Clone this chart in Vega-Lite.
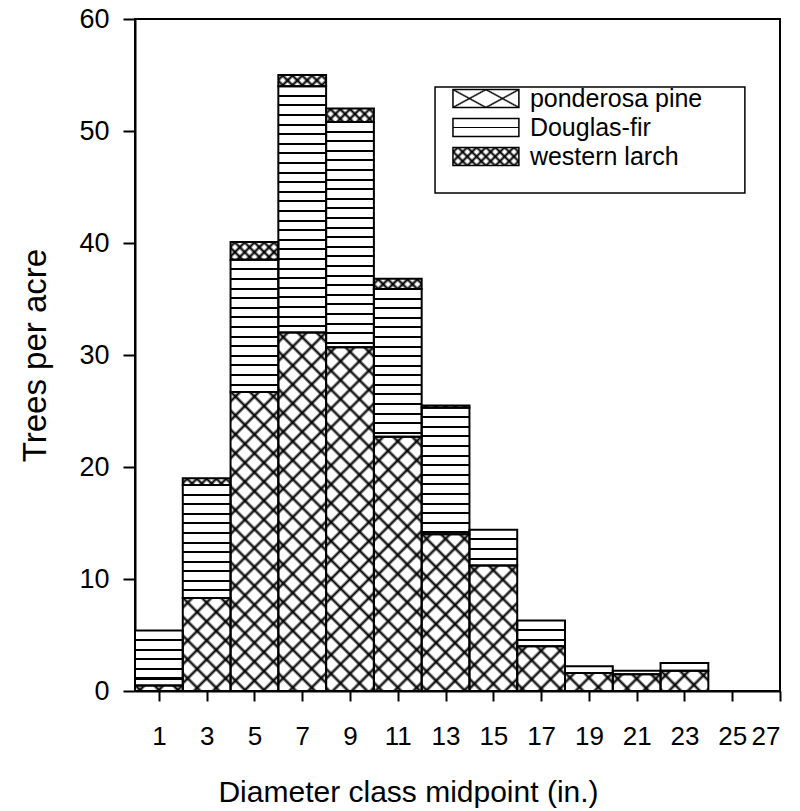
{
  "$schema": "https://vega.github.io/schema/vega-lite/v6.json",
  "width": 645,
  "height": 672,
  "autosize": {"type": "none"},
  "padding": {"left": 135, "top": 19, "right": 20, "bottom": 120},
  "background": "white",
  "config": {
    "font": "Liberation Sans",
    "view": {"stroke": "black", "strokeWidth": 2},
    "axis": {"domainColor": "black", "domainWidth": 2, "tickColor": "black", "tickWidth": 2, "labelColor": "black", "titleColor": "black", "labelFont": "Liberation Sans", "titleFont": "Liberation Sans", "labelFontSize": 27, "titleFontSize": 30, "titleFontWeight": "normal", "grid": false},
    "axisX": {"tickSize": 10, "labelPadding": 22, "titlePadding": 28, "labelFontSize": 26},
    "axisY": {"tickSize": 12, "labelPadding": 14, "titlePadding": 26, "titleFontSize": 33}
  },
  "datasets": {
    "trees": [
      {"d": 1, "species": "ponderosa pine", "trees": 0.5}, {"d": 1, "species": "Douglas-fir", "trees": 4.9}, {"d": 1, "species": "western larch", "trees": 0},
      {"d": 3, "species": "ponderosa pine", "trees": 8.3}, {"d": 3, "species": "Douglas-fir", "trees": 10.1}, {"d": 3, "species": "western larch", "trees": 0.6},
      {"d": 5, "species": "ponderosa pine", "trees": 26.7}, {"d": 5, "species": "Douglas-fir", "trees": 11.8}, {"d": 5, "species": "western larch", "trees": 1.6},
      {"d": 7, "species": "ponderosa pine", "trees": 32.0}, {"d": 7, "species": "Douglas-fir", "trees": 22.0}, {"d": 7, "species": "western larch", "trees": 1.0},
      {"d": 9, "species": "ponderosa pine", "trees": 30.7}, {"d": 9, "species": "Douglas-fir", "trees": 20.1}, {"d": 9, "species": "western larch", "trees": 1.2},
      {"d": 11, "species": "ponderosa pine", "trees": 22.7}, {"d": 11, "species": "Douglas-fir", "trees": 13.2}, {"d": 11, "species": "western larch", "trees": 0.9},
      {"d": 13, "species": "ponderosa pine", "trees": 14.0}, {"d": 13, "species": "Douglas-fir", "trees": 11.3}, {"d": 13, "species": "western larch", "trees": 0.2},
      {"d": 15, "species": "ponderosa pine", "trees": 11.2}, {"d": 15, "species": "Douglas-fir", "trees": 3.2}, {"d": 15, "species": "western larch", "trees": 0},
      {"d": 17, "species": "ponderosa pine", "trees": 4.0}, {"d": 17, "species": "Douglas-fir", "trees": 2.3}, {"d": 17, "species": "western larch", "trees": 0},
      {"d": 19, "species": "ponderosa pine", "trees": 1.6}, {"d": 19, "species": "Douglas-fir", "trees": 0.6}, {"d": 19, "species": "western larch", "trees": 0},
      {"d": 21, "species": "ponderosa pine", "trees": 1.5}, {"d": 21, "species": "Douglas-fir", "trees": 0.3}, {"d": 21, "species": "western larch", "trees": 0},
      {"d": 23, "species": "ponderosa pine", "trees": 1.8}, {"d": 23, "species": "Douglas-fir", "trees": 0.7}, {"d": 23, "species": "western larch", "trees": 0}
    ],
    "one": [{}]
  },
  "layer": [
    {
      "data": {"name": "trees"},
      "transform": [
        {"bin": {"step": 2, "extent": [0, 28]}, "field": "d", "as": ["lo", "hi"]},
        {"stack": "trees", "groupby": ["d"], "as": ["y0", "y1"]},
        {"filter": "datum.species === 'western larch'"}
      ],
      "mark": {"type": "rect", "clip": true, "y2Offset": 40, "fill": {"gradient": "linear", "x1": 0, "y1": 1, "x2": 1.0801, "y2": 0.0958, "stops": [
        {"offset": 0, "color": "white"},
        {"offset": 0.0206, "color": "white"}, {"offset": 0.0556, "color": "black"}, {"offset": 0.0906, "color": "white"},
        {"offset": 0.1317, "color": "white"}, {"offset": 0.1667, "color": "black"}, {"offset": 0.2017, "color": "white"},
        {"offset": 0.2428, "color": "white"}, {"offset": 0.2778, "color": "black"}, {"offset": 0.3128, "color": "white"},
        {"offset": 0.3539, "color": "white"}, {"offset": 0.3889, "color": "black"}, {"offset": 0.4239, "color": "white"},
        {"offset": 0.465, "color": "white"}, {"offset": 0.5, "color": "black"}, {"offset": 0.535, "color": "white"},
        {"offset": 0.5761, "color": "white"}, {"offset": 0.6111, "color": "black"}, {"offset": 0.6461, "color": "white"},
        {"offset": 0.6872, "color": "white"}, {"offset": 0.7222, "color": "black"}, {"offset": 0.7572, "color": "white"},
        {"offset": 0.7983, "color": "white"}, {"offset": 0.8333, "color": "black"}, {"offset": 0.8683, "color": "white"},
        {"offset": 0.9094, "color": "white"}, {"offset": 0.9444, "color": "black"}, {"offset": 0.9794, "color": "white"},
        {"offset": 1, "color": "white"}]}},
      "encoding": {
        "x": {"field": "lo", "type": "quantitative", "scale": {"domain": [0, 27], "nice": false, "zero": false}, "title": "Diameter class midpoint (in.)", "axis": {"values": [1, 3, 5, 7, 9, 11, 13, 15, 17, 19, 21, 23, 25, 27], "titleX": 273, "titleAlign": "center"}},
        "x2": {"field": "hi"},
        "y": {"field": "y1", "type": "quantitative", "scale": {"domain": [0, 60], "nice": false, "zero": true}, "title": "Trees per acre", "axis": {"values": [0, 10, 20, 30, 40, 50, 60]}},
        "y2": {"field": "y1"}
      }
    },
    {
      "data": {"name": "trees"},
      "transform": [
        {"bin": {"step": 2, "extent": [0, 28]}, "field": "d", "as": ["lo", "hi"]},
        {"stack": "trees", "groupby": ["d"], "as": ["y0", "y1"]},
        {"filter": "datum.species === 'western larch'"}
      ],
      "mark": {"type": "rect", "clip": true, "y2Offset": 40, "fill": {"gradient": "linear", "x1": 0, "y1": 0, "x2": 1.0801, "y2": 0.9042, "stops": [
        {"offset": 0, "color": "rgba(0,0,0,0)"},
        {"offset": 0.0206, "color": "rgba(0,0,0,0)"}, {"offset": 0.0556, "color": "black"}, {"offset": 0.0906, "color": "rgba(0,0,0,0)"},
        {"offset": 0.1317, "color": "rgba(0,0,0,0)"}, {"offset": 0.1667, "color": "black"}, {"offset": 0.2017, "color": "rgba(0,0,0,0)"},
        {"offset": 0.2428, "color": "rgba(0,0,0,0)"}, {"offset": 0.2778, "color": "black"}, {"offset": 0.3128, "color": "rgba(0,0,0,0)"},
        {"offset": 0.3539, "color": "rgba(0,0,0,0)"}, {"offset": 0.3889, "color": "black"}, {"offset": 0.4239, "color": "rgba(0,0,0,0)"},
        {"offset": 0.465, "color": "rgba(0,0,0,0)"}, {"offset": 0.5, "color": "black"}, {"offset": 0.535, "color": "rgba(0,0,0,0)"},
        {"offset": 0.5761, "color": "rgba(0,0,0,0)"}, {"offset": 0.6111, "color": "black"}, {"offset": 0.6461, "color": "rgba(0,0,0,0)"},
        {"offset": 0.6872, "color": "rgba(0,0,0,0)"}, {"offset": 0.7222, "color": "black"}, {"offset": 0.7572, "color": "rgba(0,0,0,0)"},
        {"offset": 0.7983, "color": "rgba(0,0,0,0)"}, {"offset": 0.8333, "color": "black"}, {"offset": 0.8683, "color": "rgba(0,0,0,0)"},
        {"offset": 0.9094, "color": "rgba(0,0,0,0)"}, {"offset": 0.9444, "color": "black"}, {"offset": 0.9794, "color": "rgba(0,0,0,0)"},
        {"offset": 1, "color": "rgba(0,0,0,0)"}]}},
      "encoding": {
        "x": {"field": "lo", "type": "quantitative", "title": "Diameter class midpoint (in.)"},
        "x2": {"field": "hi"},
        "y": {"field": "y1", "type": "quantitative", "title": "Trees per acre"},
        "y2": {"field": "y1"}
      }
    },
    {
      "data": {"name": "trees"},
      "transform": [
        {"bin": {"step": 2, "extent": [0, 28]}, "field": "d", "as": ["lo", "hi"]},
        {"stack": "trees", "groupby": ["d"], "as": ["y0", "y1"]},
        {"filter": "datum.species === 'Douglas-fir'"}
      ],
      "mark": {"type": "rect", "clip": true, "y2Offset": 672, "fill": {"gradient": "linear", "x1": 0, "y1": 0, "x2": 0, "y2": 1, "stops": [
        {"offset": 0, "color": "white"},
        {"offset": 0.0128, "color": "white"}, {"offset": 0.0128, "color": "black"}, {"offset": 0.0158, "color": "black"}, {"offset": 0.0158, "color": "white"},
        {"offset": 0.0271, "color": "white"}, {"offset": 0.0271, "color": "black"}, {"offset": 0.0301, "color": "black"}, {"offset": 0.0301, "color": "white"},
        {"offset": 0.0414, "color": "white"}, {"offset": 0.0414, "color": "black"}, {"offset": 0.0444, "color": "black"}, {"offset": 0.0444, "color": "white"},
        {"offset": 0.0556, "color": "white"}, {"offset": 0.0556, "color": "black"}, {"offset": 0.0586, "color": "black"}, {"offset": 0.0586, "color": "white"},
        {"offset": 0.0699, "color": "white"}, {"offset": 0.0699, "color": "black"}, {"offset": 0.0729, "color": "black"}, {"offset": 0.0729, "color": "white"},
        {"offset": 0.0842, "color": "white"}, {"offset": 0.0842, "color": "black"}, {"offset": 0.0872, "color": "black"}, {"offset": 0.0872, "color": "white"},
        {"offset": 0.0985, "color": "white"}, {"offset": 0.0985, "color": "black"}, {"offset": 0.1015, "color": "black"}, {"offset": 0.1015, "color": "white"},
        {"offset": 0.1128, "color": "white"}, {"offset": 0.1128, "color": "black"}, {"offset": 0.1158, "color": "black"}, {"offset": 0.1158, "color": "white"},
        {"offset": 0.1271, "color": "white"}, {"offset": 0.1271, "color": "black"}, {"offset": 0.1301, "color": "black"}, {"offset": 0.1301, "color": "white"},
        {"offset": 0.1414, "color": "white"}, {"offset": 0.1414, "color": "black"}, {"offset": 0.1444, "color": "black"}, {"offset": 0.1444, "color": "white"},
        {"offset": 0.1556, "color": "white"}, {"offset": 0.1556, "color": "black"}, {"offset": 0.1586, "color": "black"}, {"offset": 0.1586, "color": "white"},
        {"offset": 0.1699, "color": "white"}, {"offset": 0.1699, "color": "black"}, {"offset": 0.1729, "color": "black"}, {"offset": 0.1729, "color": "white"},
        {"offset": 0.1842, "color": "white"}, {"offset": 0.1842, "color": "black"}, {"offset": 0.1872, "color": "black"}, {"offset": 0.1872, "color": "white"},
        {"offset": 0.1985, "color": "white"}, {"offset": 0.1985, "color": "black"}, {"offset": 0.2015, "color": "black"}, {"offset": 0.2015, "color": "white"},
        {"offset": 0.2128, "color": "white"}, {"offset": 0.2128, "color": "black"}, {"offset": 0.2158, "color": "black"}, {"offset": 0.2158, "color": "white"},
        {"offset": 0.2271, "color": "white"}, {"offset": 0.2271, "color": "black"}, {"offset": 0.2301, "color": "black"}, {"offset": 0.2301, "color": "white"},
        {"offset": 0.2414, "color": "white"}, {"offset": 0.2414, "color": "black"}, {"offset": 0.2444, "color": "black"}, {"offset": 0.2444, "color": "white"},
        {"offset": 0.2556, "color": "white"}, {"offset": 0.2556, "color": "black"}, {"offset": 0.2586, "color": "black"}, {"offset": 0.2586, "color": "white"},
        {"offset": 0.2699, "color": "white"}, {"offset": 0.2699, "color": "black"}, {"offset": 0.2729, "color": "black"}, {"offset": 0.2729, "color": "white"},
        {"offset": 0.2842, "color": "white"}, {"offset": 0.2842, "color": "black"}, {"offset": 0.2872, "color": "black"}, {"offset": 0.2872, "color": "white"},
        {"offset": 0.2985, "color": "white"}, {"offset": 0.2985, "color": "black"}, {"offset": 0.3015, "color": "black"}, {"offset": 0.3015, "color": "white"},
        {"offset": 0.3128, "color": "white"}, {"offset": 0.3128, "color": "black"}, {"offset": 0.3158, "color": "black"}, {"offset": 0.3158, "color": "white"},
        {"offset": 0.3271, "color": "white"}, {"offset": 0.3271, "color": "black"}, {"offset": 0.3301, "color": "black"}, {"offset": 0.3301, "color": "white"},
        {"offset": 0.3414, "color": "white"}, {"offset": 0.3414, "color": "black"}, {"offset": 0.3444, "color": "black"}, {"offset": 0.3444, "color": "white"},
        {"offset": 0.3556, "color": "white"}, {"offset": 0.3556, "color": "black"}, {"offset": 0.3586, "color": "black"}, {"offset": 0.3586, "color": "white"},
        {"offset": 0.3699, "color": "white"}, {"offset": 0.3699, "color": "black"}, {"offset": 0.3729, "color": "black"}, {"offset": 0.3729, "color": "white"},
        {"offset": 1, "color": "white"}]}},
      "encoding": {
        "x": {"field": "lo", "type": "quantitative", "title": "Diameter class midpoint (in.)"},
        "x2": {"field": "hi"},
        "y": {"field": "y1", "type": "quantitative", "title": "Trees per acre"},
        "y2": {"field": "y1"}
      }
    },
    {
      "data": {"name": "trees"},
      "transform": [
        {"bin": {"step": 2, "extent": [0, 28]}, "field": "d", "as": ["lo", "hi"]},
        {"stack": "trees", "groupby": ["d"], "as": ["y0", "y1"]},
        {"filter": "datum.species === 'ponderosa pine'"}
      ],
      "mark": {"type": "rect", "clip": true, "y2Offset": 672, "fill": {"gradient": "linear", "x1": 0, "y1": 1, "x2": 0.0758, "y2": -0.0657, "stops": [
        {"offset": 0, "color": "white"},
        {"offset": 0.4034, "color": "white"}, {"offset": 0.4079, "color": "black"}, {"offset": 0.4124, "color": "white"},
        {"offset": 0.4297, "color": "white"}, {"offset": 0.4342, "color": "black"}, {"offset": 0.4387, "color": "white"},
        {"offset": 0.456, "color": "white"}, {"offset": 0.4605, "color": "black"}, {"offset": 0.465, "color": "white"},
        {"offset": 0.4823, "color": "white"}, {"offset": 0.4868, "color": "black"}, {"offset": 0.4913, "color": "white"},
        {"offset": 0.5087, "color": "white"}, {"offset": 0.5132, "color": "black"}, {"offset": 0.5177, "color": "white"},
        {"offset": 0.535, "color": "white"}, {"offset": 0.5395, "color": "black"}, {"offset": 0.544, "color": "white"},
        {"offset": 0.5613, "color": "white"}, {"offset": 0.5658, "color": "black"}, {"offset": 0.5703, "color": "white"},
        {"offset": 0.5876, "color": "white"}, {"offset": 0.5921, "color": "black"}, {"offset": 0.5966, "color": "white"},
        {"offset": 0.6139, "color": "white"}, {"offset": 0.6184, "color": "black"}, {"offset": 0.6229, "color": "white"},
        {"offset": 0.6402, "color": "white"}, {"offset": 0.6447, "color": "black"}, {"offset": 0.6492, "color": "white"},
        {"offset": 0.6666, "color": "white"}, {"offset": 0.6711, "color": "black"}, {"offset": 0.6756, "color": "white"},
        {"offset": 0.6929, "color": "white"}, {"offset": 0.6974, "color": "black"}, {"offset": 0.7019, "color": "white"},
        {"offset": 0.7192, "color": "white"}, {"offset": 0.7237, "color": "black"}, {"offset": 0.7282, "color": "white"},
        {"offset": 0.7455, "color": "white"}, {"offset": 0.75, "color": "black"}, {"offset": 0.7545, "color": "white"},
        {"offset": 0.7718, "color": "white"}, {"offset": 0.7763, "color": "black"}, {"offset": 0.7808, "color": "white"},
        {"offset": 0.7981, "color": "white"}, {"offset": 0.8026, "color": "black"}, {"offset": 0.8071, "color": "white"},
        {"offset": 0.8244, "color": "white"}, {"offset": 0.8289, "color": "black"}, {"offset": 0.8334, "color": "white"},
        {"offset": 0.8508, "color": "white"}, {"offset": 0.8553, "color": "black"}, {"offset": 0.8598, "color": "white"},
        {"offset": 0.8771, "color": "white"}, {"offset": 0.8816, "color": "black"}, {"offset": 0.8861, "color": "white"},
        {"offset": 0.9034, "color": "white"}, {"offset": 0.9079, "color": "black"}, {"offset": 0.9124, "color": "white"},
        {"offset": 0.9297, "color": "white"}, {"offset": 0.9342, "color": "black"}, {"offset": 0.9387, "color": "white"},
        {"offset": 0.956, "color": "white"}, {"offset": 0.9605, "color": "black"}, {"offset": 0.965, "color": "white"},
        {"offset": 0.9823, "color": "white"}, {"offset": 0.9868, "color": "black"}, {"offset": 0.9913, "color": "white"},
        {"offset": 1, "color": "white"}]}},
      "encoding": {
        "x": {"field": "lo", "type": "quantitative", "title": "Diameter class midpoint (in.)"},
        "x2": {"field": "hi"},
        "y": {"field": "y1", "type": "quantitative", "title": "Trees per acre"},
        "y2": {"field": "y1"}
      }
    },
    {
      "data": {"name": "trees"},
      "transform": [
        {"bin": {"step": 2, "extent": [0, 28]}, "field": "d", "as": ["lo", "hi"]},
        {"stack": "trees", "groupby": ["d"], "as": ["y0", "y1"]},
        {"filter": "datum.species === 'ponderosa pine'"}
      ],
      "mark": {"type": "rect", "clip": true, "y2Offset": 672, "fill": {"gradient": "linear", "x1": 0, "y1": 0, "x2": 0.0758, "y2": 1.0657, "stops": [
        {"offset": 0, "color": "rgba(0,0,0,0)"},
        {"offset": 0.0087, "color": "rgba(0,0,0,0)"}, {"offset": 0.0132, "color": "black"}, {"offset": 0.0177, "color": "rgba(0,0,0,0)"},
        {"offset": 0.035, "color": "rgba(0,0,0,0)"}, {"offset": 0.0395, "color": "black"}, {"offset": 0.044, "color": "rgba(0,0,0,0)"},
        {"offset": 0.0613, "color": "rgba(0,0,0,0)"}, {"offset": 0.0658, "color": "black"}, {"offset": 0.0703, "color": "rgba(0,0,0,0)"},
        {"offset": 0.0876, "color": "rgba(0,0,0,0)"}, {"offset": 0.0921, "color": "black"}, {"offset": 0.0966, "color": "rgba(0,0,0,0)"},
        {"offset": 0.1139, "color": "rgba(0,0,0,0)"}, {"offset": 0.1184, "color": "black"}, {"offset": 0.1229, "color": "rgba(0,0,0,0)"},
        {"offset": 0.1402, "color": "rgba(0,0,0,0)"}, {"offset": 0.1447, "color": "black"}, {"offset": 0.1492, "color": "rgba(0,0,0,0)"},
        {"offset": 0.1666, "color": "rgba(0,0,0,0)"}, {"offset": 0.1711, "color": "black"}, {"offset": 0.1756, "color": "rgba(0,0,0,0)"},
        {"offset": 0.1929, "color": "rgba(0,0,0,0)"}, {"offset": 0.1974, "color": "black"}, {"offset": 0.2019, "color": "rgba(0,0,0,0)"},
        {"offset": 0.2192, "color": "rgba(0,0,0,0)"}, {"offset": 0.2237, "color": "black"}, {"offset": 0.2282, "color": "rgba(0,0,0,0)"},
        {"offset": 0.2455, "color": "rgba(0,0,0,0)"}, {"offset": 0.25, "color": "black"}, {"offset": 0.2545, "color": "rgba(0,0,0,0)"},
        {"offset": 0.2718, "color": "rgba(0,0,0,0)"}, {"offset": 0.2763, "color": "black"}, {"offset": 0.2808, "color": "rgba(0,0,0,0)"},
        {"offset": 0.2981, "color": "rgba(0,0,0,0)"}, {"offset": 0.3026, "color": "black"}, {"offset": 0.3071, "color": "rgba(0,0,0,0)"},
        {"offset": 0.3244, "color": "rgba(0,0,0,0)"}, {"offset": 0.3289, "color": "black"}, {"offset": 0.3334, "color": "rgba(0,0,0,0)"},
        {"offset": 0.3508, "color": "rgba(0,0,0,0)"}, {"offset": 0.3553, "color": "black"}, {"offset": 0.3598, "color": "rgba(0,0,0,0)"},
        {"offset": 0.3771, "color": "rgba(0,0,0,0)"}, {"offset": 0.3816, "color": "black"}, {"offset": 0.3861, "color": "rgba(0,0,0,0)"},
        {"offset": 0.4034, "color": "rgba(0,0,0,0)"}, {"offset": 0.4079, "color": "black"}, {"offset": 0.4124, "color": "rgba(0,0,0,0)"},
        {"offset": 0.4297, "color": "rgba(0,0,0,0)"}, {"offset": 0.4342, "color": "black"}, {"offset": 0.4387, "color": "rgba(0,0,0,0)"},
        {"offset": 0.456, "color": "rgba(0,0,0,0)"}, {"offset": 0.4605, "color": "black"}, {"offset": 0.465, "color": "rgba(0,0,0,0)"},
        {"offset": 0.4823, "color": "rgba(0,0,0,0)"}, {"offset": 0.4868, "color": "black"}, {"offset": 0.4913, "color": "rgba(0,0,0,0)"},
        {"offset": 0.5087, "color": "rgba(0,0,0,0)"}, {"offset": 0.5132, "color": "black"}, {"offset": 0.5177, "color": "rgba(0,0,0,0)"},
        {"offset": 0.535, "color": "rgba(0,0,0,0)"}, {"offset": 0.5395, "color": "black"}, {"offset": 0.544, "color": "rgba(0,0,0,0)"},
        {"offset": 0.5613, "color": "rgba(0,0,0,0)"}, {"offset": 0.5658, "color": "black"}, {"offset": 0.5703, "color": "rgba(0,0,0,0)"},
        {"offset": 0.5876, "color": "rgba(0,0,0,0)"}, {"offset": 0.5921, "color": "black"}, {"offset": 0.5966, "color": "rgba(0,0,0,0)"},
        {"offset": 1, "color": "rgba(0,0,0,0)"}]}},
      "encoding": {
        "x": {"field": "lo", "type": "quantitative", "title": "Diameter class midpoint (in.)"},
        "x2": {"field": "hi"},
        "y": {"field": "y1", "type": "quantitative", "title": "Trees per acre"},
        "y2": {"field": "y1"}
      }
    },
    {
      "data": {"name": "trees"},
      "transform": [
        {"bin": {"step": 2, "extent": [0, 28]}, "field": "d", "as": ["lo", "hi"]},
        {"stack": "trees", "groupby": ["d"], "as": ["y0", "y1"]},
        {"filter": "datum.trees > 0"}
      ],
      "mark": {"type": "rect", "filled": false, "stroke": "black", "strokeWidth": 2},
      "encoding": {
        "x": {"field": "lo", "type": "quantitative", "title": "Diameter class midpoint (in.)"},
        "x2": {"field": "hi"},
        "y": {"field": "y1", "type": "quantitative", "title": "Trees per acre"},
        "y2": {"field": "y0"}
      }
    },
    {
      "data": {"name": "one"},
      "mark": {"type": "rect", "fill": "white", "stroke": "black", "strokeWidth": 1.5},
      "encoding": {"x": {"datum": 12.56}, "x2": {"datum": 25.53}, "y": {"datum": 44.46}, "y2": {"datum": 53.93}}
    },
    {
      "data": {"name": "one"},
      "mark": {"type": "rect", "fill": {"gradient": "linear", "x1": 0, "y1": 1, "x2": 1.2, "y2": 0.4, "stops": [
        {"offset": 0, "color": "white"}, {"offset": 0.3033, "color": "white"}, {"offset": 0.3333, "color": "black"}, {"offset": 0.3633, "color": "white"},
        {"offset": 0.6367, "color": "white"}, {"offset": 0.6667, "color": "black"}, {"offset": 0.6967, "color": "white"}, {"offset": 1, "color": "white"}]}},
      "encoding": {"x": {"datum": 13.31}, "x2": {"datum": 16.07}, "y": {"datum": 52.1}, "y2": {"datum": 53.7}}
    },
    {
      "data": {"name": "one"},
      "mark": {"type": "rect", "stroke": "black", "strokeWidth": 1.5, "fill": {"gradient": "linear", "x1": 0, "y1": 0, "x2": 1.2, "y2": 0.6, "stops": [
        {"offset": 0, "color": "rgba(0,0,0,0)"}, {"offset": 0.3033, "color": "rgba(0,0,0,0)"}, {"offset": 0.3333, "color": "black"}, {"offset": 0.3633, "color": "rgba(0,0,0,0)"},
        {"offset": 0.6367, "color": "rgba(0,0,0,0)"}, {"offset": 0.6667, "color": "black"}, {"offset": 0.6967, "color": "rgba(0,0,0,0)"}, {"offset": 1, "color": "rgba(0,0,0,0)"}]}},
      "encoding": {"x": {"datum": 13.31}, "x2": {"datum": 16.07}, "y": {"datum": 52.1}, "y2": {"datum": 53.7}}
    },
    {
      "data": {"name": "one"},
      "mark": {"type": "rect", "stroke": "black", "strokeWidth": 1.5, "fill": {"gradient": "linear", "x1": 0, "y1": 0, "x2": 0, "y2": 1, "stops": [
        {"offset": 0, "color": "white"}, {"offset": 0.45, "color": "white"}, {"offset": 0.45, "color": "black"}, {"offset": 0.55, "color": "black"}, {"offset": 0.55, "color": "white"}, {"offset": 1, "color": "white"}]}},
      "encoding": {"x": {"datum": 13.31}, "x2": {"datum": 16.07}, "y": {"datum": 49.51}, "y2": {"datum": 51.11}}
    },
    {
      "data": {"name": "one"},
      "mark": {"type": "rect", "fill": {"gradient": "linear", "x1": 0, "y1": 1, "x2": 1.1846, "y2": 0.677, "stops": [
        {"offset": 0, "color": "white"},
        {"offset": 0.0206, "color": "white"}, {"offset": 0.0556, "color": "black"}, {"offset": 0.0906, "color": "white"},
        {"offset": 0.1317, "color": "white"}, {"offset": 0.1667, "color": "black"}, {"offset": 0.2017, "color": "white"},
        {"offset": 0.2428, "color": "white"}, {"offset": 0.2778, "color": "black"}, {"offset": 0.3128, "color": "white"},
        {"offset": 0.3539, "color": "white"}, {"offset": 0.3889, "color": "black"}, {"offset": 0.4239, "color": "white"},
        {"offset": 0.465, "color": "white"}, {"offset": 0.5, "color": "black"}, {"offset": 0.535, "color": "white"},
        {"offset": 0.5761, "color": "white"}, {"offset": 0.6111, "color": "black"}, {"offset": 0.6461, "color": "white"},
        {"offset": 0.6872, "color": "white"}, {"offset": 0.7222, "color": "black"}, {"offset": 0.7572, "color": "white"},
        {"offset": 0.7983, "color": "white"}, {"offset": 0.8333, "color": "black"}, {"offset": 0.8683, "color": "white"},
        {"offset": 0.9094, "color": "white"}, {"offset": 0.9444, "color": "black"}, {"offset": 0.9794, "color": "white"},
        {"offset": 1, "color": "white"}]}},
      "encoding": {"x": {"datum": 13.31}, "x2": {"datum": 16.07}, "y": {"datum": 46.92}, "y2": {"datum": 48.52}}
    },
    {
      "data": {"name": "one"},
      "mark": {"type": "rect", "stroke": "black", "strokeWidth": 1.5, "fill": {"gradient": "linear", "x1": 0, "y1": 0, "x2": 1.1846, "y2": 0.323, "stops": [
        {"offset": 0, "color": "rgba(0,0,0,0)"},
        {"offset": 0.0206, "color": "rgba(0,0,0,0)"}, {"offset": 0.0556, "color": "black"}, {"offset": 0.0906, "color": "rgba(0,0,0,0)"},
        {"offset": 0.1317, "color": "rgba(0,0,0,0)"}, {"offset": 0.1667, "color": "black"}, {"offset": 0.2017, "color": "rgba(0,0,0,0)"},
        {"offset": 0.2428, "color": "rgba(0,0,0,0)"}, {"offset": 0.2778, "color": "black"}, {"offset": 0.3128, "color": "rgba(0,0,0,0)"},
        {"offset": 0.3539, "color": "rgba(0,0,0,0)"}, {"offset": 0.3889, "color": "black"}, {"offset": 0.4239, "color": "rgba(0,0,0,0)"},
        {"offset": 0.465, "color": "rgba(0,0,0,0)"}, {"offset": 0.5, "color": "black"}, {"offset": 0.535, "color": "rgba(0,0,0,0)"},
        {"offset": 0.5761, "color": "rgba(0,0,0,0)"}, {"offset": 0.6111, "color": "black"}, {"offset": 0.6461, "color": "rgba(0,0,0,0)"},
        {"offset": 0.6872, "color": "rgba(0,0,0,0)"}, {"offset": 0.7222, "color": "black"}, {"offset": 0.7572, "color": "rgba(0,0,0,0)"},
        {"offset": 0.7983, "color": "rgba(0,0,0,0)"}, {"offset": 0.8333, "color": "black"}, {"offset": 0.8683, "color": "rgba(0,0,0,0)"},
        {"offset": 0.9094, "color": "rgba(0,0,0,0)"}, {"offset": 0.9444, "color": "black"}, {"offset": 0.9794, "color": "rgba(0,0,0,0)"},
        {"offset": 1, "color": "rgba(0,0,0,0)"}]}},
      "encoding": {"x": {"datum": 13.31}, "x2": {"datum": 16.07}, "y": {"datum": 46.92}, "y2": {"datum": 48.52}}
    },
    {
      "data": {"name": "one"},
      "mark": {"type": "text", "text": "ponderosa pine", "align": "left", "baseline": "middle", "fontSize": 25, "font": "Liberation Sans", "color": "black"},
      "encoding": {"x": {"datum": 16.53}, "y": {"datum": 52.9}}
    },
    {
      "data": {"name": "one"},
      "mark": {"type": "text", "text": "Douglas-fir", "align": "left", "baseline": "middle", "fontSize": 25, "font": "Liberation Sans", "color": "black"},
      "encoding": {"x": {"datum": 16.53}, "y": {"datum": 50.31}}
    },
    {
      "data": {"name": "one"},
      "mark": {"type": "text", "text": "western larch", "align": "left", "baseline": "middle", "fontSize": 25, "font": "Liberation Sans", "color": "black"},
      "encoding": {"x": {"datum": 16.53}, "y": {"datum": 47.72}}
    }
  ]
}
